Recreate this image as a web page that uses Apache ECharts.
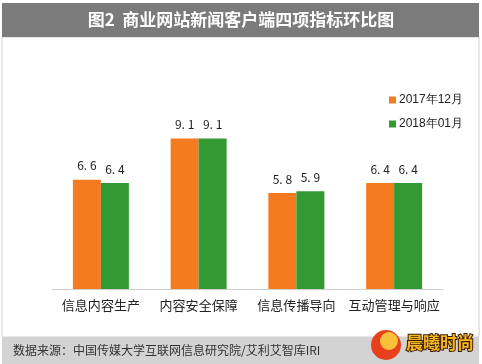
<!DOCTYPE html>
<html><head><meta charset="utf-8">
<script src="https://cdn.jsdelivr.net/npm/echarts@6/dist/echarts.min.js"></script>
<style>html,body{margin:0;padding:0;background:#fff}#c{width:482px;height:364px}</style>
</head><body><div id="c"></div>
<script>
var categories = ['信息内容生产','内容安全保障','信息传播导向','互动管理与响应'];
var seriesNames = ['2017年12月','2018年01月'];
var dec2017 = [6.6, 9.1, 5.8, 6.4];
var jan2018 = [6.4, 9.1, 5.9, 6.4];
var titleText = '图2  商业网站新闻客户端四项指标环比图';
var sourceText = '数据来源：中国传媒大学互联网信息研究院/艾利艾智库IRI';
var FONT = '"Noto Sans CJK SC", sans-serif';

var chart = echarts.init(document.getElementById('c'), null, {renderer:'canvas'});
var labelCfg = {
  show:true, position:'top', distance:8, color:'#222', fontSize:12, fontFamily:FONT,
  formatter:function(p){ return p.value.toFixed(1).replace('.', '. '); }
};
chart.setOption({
  animation:false,
  backgroundColor:'#fff',
  graphic:[
    {type:'rect', shape:{x:2,y:37,width:477,height:300}, style:{fill:'#fff', stroke:'#cfcfcf', lineWidth:1}, z:-10},
    {type:'rect', shape:{x:2,y:3,width:477,height:34}, style:{fill:'#7b7b7b'}, z:-5},
    {type:'text', left:'center', top:11, style:{text:titleText, fill:'#fff', font:'bold 17px '+FONT}},
    {type:'rect', shape:{x:2,y:337,width:477,height:27}, style:{fill:'#d3d3d3'}, z:-5},
    {type:'text', left:13, top:344, style:{text:sourceText, fill:'#333', font:'12px '+FONT}},
    {type:'circle', shape:{cx:386,cy:345,r:15}, style:{fill:'#e8401c'}, z:5},
    {type:'circle', shape:{cx:389,cy:341,r:9}, style:{fill:'#f7c23a'}, z:6},
    {type:'text', left:405, top:333, style:{text:'晨曦时尚', fill:'#f5b51f', stroke:'#3a1a00', lineWidth:2, font:'bold 17px '+FONT}, z:7}
  ],
  legend:{
    orient:'vertical', left:384, top:89, itemWidth:7, itemHeight:7, itemGap:12,
    icon:'rect', data:seriesNames,
    textStyle:{color:'#222', fontSize:12, fontFamily:'"Liberation Sans", Arial, sans-serif', padding:[0,0,0,-2]}
  },
  grid:{left:52, right:39, top:123.5, bottom:75, containLabel:false},
  xAxis:{
    type:'category', data:categories,
    axisLine:{lineStyle:{color:'#d0d0d0', width:1}},
    axisTick:{show:false},
    axisLabel:{color:'#222', fontSize:13, fontFamily:FONT, margin:10, interval:0}
  },
  yAxis:{type:'value', min:0, max:10, show:false, splitLine:{show:false}},
  series:[
    {name:seriesNames[0], type:'bar', data:dec2017, barWidth:28, barGap:'0%', itemStyle:{color:'#f47b20'}, label:labelCfg},
    {name:seriesNames[1], type:'bar', data:jan2018, barWidth:28, barGap:'0%', itemStyle:{color:'#339933'}, label:labelCfg}
  ]
});
</script></body></html>
